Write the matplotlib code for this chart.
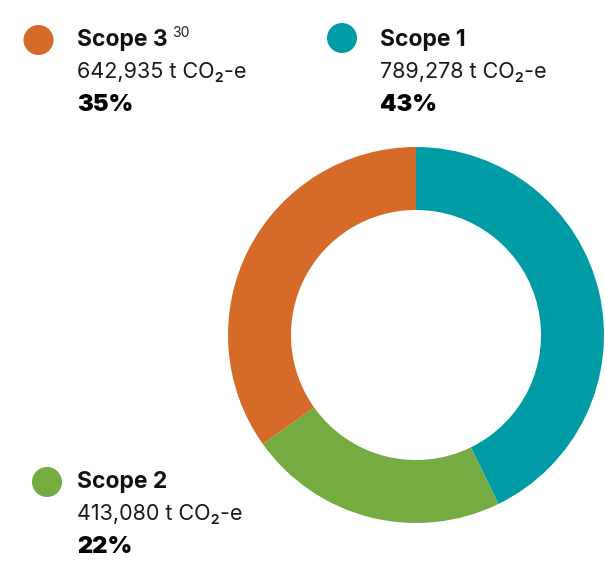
import matplotlib.pyplot as plt
from matplotlib.patches import Circle

plt.rcParams['font.family'] = ['Inter', 'DejaVu Sans']

scopes = ["Scope 1", "Scope 2", "Scope 3"]
emissions = [789278, 413080, 642935]
colors = ["#009CA6", "#74AC42", "#D66B29"]
footnotes = ["", "", "30"]

total = sum(emissions)
shares = [round(v / total * 100) for v in emissions]

W, H = 605, 563
fig = plt.figure(figsize=(W / 100, H / 100), dpi=100)

# donut, clockwise from 12 o'clock
ax = fig.add_axes([228 / W, (H - 523) / H, 376 / W, 376 / H])
ax.pie(emissions, colors=colors, startangle=90, counterclock=False,
       radius=1, wedgeprops=dict(width=0.335, linewidth=0))
ax.set_xlim(-1, 1)
ax.set_ylim(-1, 1)
ax.set_aspect("equal")
ax.axis("off")

# legend blocks drawn in pixel coordinates
lg = fig.add_axes([0, 0, 1, 1], zorder=5)
lg.set_xlim(0, W)
lg.set_ylim(H, 0)
lg.axis("off")
lg.patch.set_alpha(0)

# (dot x, dot y, text x, title baseline)
spots = [(342, 38, 380, 46), (47, 482, 77, 488), (38.5, 40, 77, 46)]

for name, val, pct, col, note, (dx, dy, tx, ty) in zip(
        scopes, emissions, shares, colors, footnotes, spots):
    lg.add_patch(Circle((dx, dy), 15, color=col, lw=0))
    lg.text(tx, ty, name, fontsize=16.5, fontweight="bold",
            va="baseline", color="#111111")
    if note:
        lg.text(tx + 95, ty - 9, note, fontsize=10, va="baseline",
                color="#222222")
    lg.text(tx, ty + 32, f"{val:,} t CO\u2082-e", fontsize=15.5,
            fontweight="normal", va="baseline", color="#1a1a1a")
    lg.text(tx, ty + 65, f"{pct}%", fontsize=17, fontweight="black",
            va="baseline", color="#000000")

fig.savefig("out.png", dpi=100)
